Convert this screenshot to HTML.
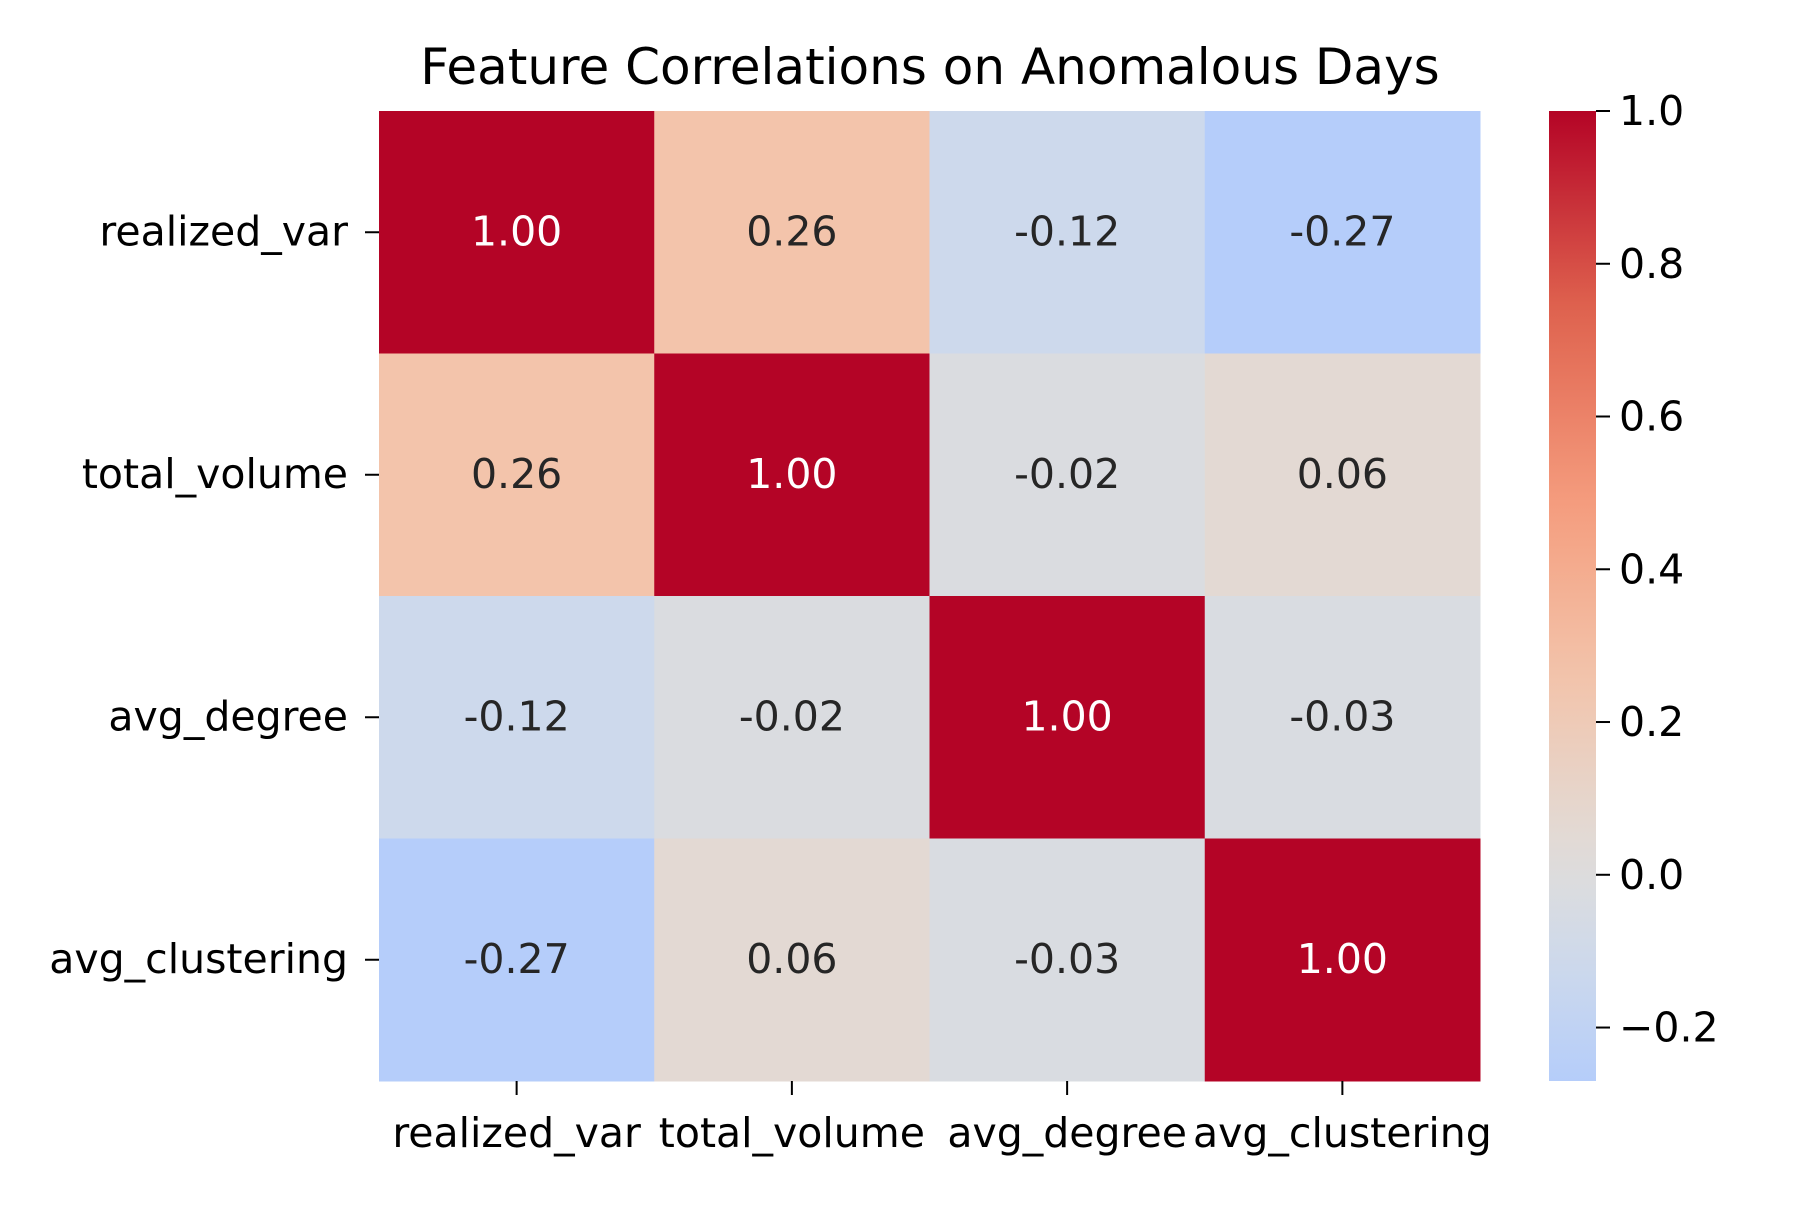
<!DOCTYPE html>
<html><head><meta charset="utf-8"><style>
body{margin:0;background:#fff;}
svg text{font-family:"DejaVu Sans","Liberation Sans",sans-serif;}
</style></head><body>
<svg id="chart" width="1800" height="1200">
<text x="930" y="84" font-size="50" text-anchor="middle" fill="#000">Feature Correlations on Anomalous Days</text>
<g id="cells"></g><g id="ylab"></g><g id="xlab"></g>
<defs><linearGradient id="cbg" x1="0" y1="1" x2="0" y2="0"></linearGradient></defs>
<rect x="1549" y="111" width="47" height="970" fill="url(#cbg)"/>
<g id="cbticks"></g>
</svg>
<script>
const labels=["realized_var","total_volume","avg_degree","avg_clustering"];
const row0=[1.00,0.26,-0.12,-0.27];
const row1=[0.26,1.00,-0.02,0.06];
const row2=[-0.12,-0.02,1.00,-0.03];
const row3=[-0.27,0.06,-0.03,1.00];
const matrix=[row0,row1,row2,row3];
const cbTicks=[-0.2,0.0,0.2,0.4,0.6,0.8,1.0];
const vmin=-0.27,vmax=1.0;
const L=379,R=1480,T=111,B=1081;
const cw=(R-L)/4,ch=(B-T)/4;
const FS=41;
const stops=[[0,59,76,192],[0.125,98,130,234],[0.25,141,176,254],[0.365,181,205,250],[0.44,205,217,236],[0.5,221,221,221],[0.53,227,217,211],[0.63,243,196,171],[0.75,244,154,123],[0.875,222,96,77],[1,180,4,38]];
function cmap(t){t=Math.max(0,Math.min(1,t));for(let i=1;i<stops.length;i++){if(t<=stops[i][0]){const a=stops[i-1],b=stops[i],f=(t-a[0])/(b[0]-a[0]);return `rgb(${[1,2,3].map(k=>Math.round(a[k]+(b[k]-a[k])*f)).join(',')})`;}}return 'rgb(180,4,38)';}
function color(v){return cmap(0.5+0.5*v);}
const NS="http://www.w3.org/2000/svg";
function mk(tag,attrs,parent){const e=document.createElementNS(NS,tag);for(const k in attrs)e.setAttribute(k,attrs[k]);parent.appendChild(e);return e;}
const cells=document.getElementById('cells');
matrix.forEach((row,i)=>row.forEach((v,j)=>{
 const r=mk('rect',{x:L+j*cw,y:T+i*ch,width:cw+0.5,height:ch+0.5,fill:color(v)},cells);
 
 
 const t=mk('text',{x:L+(j+0.5)*cw,y:T+(i+0.5)*ch+13,'font-size':FS,'text-anchor':'middle',fill:v>0.6?'#fff':'#262626'},cells);
 t.textContent=v.toFixed(2);
 
 
}));
const yl=document.getElementById('ylab'),xl=document.getElementById('xlab');
labels.forEach((s,i)=>{
 const y=T+(i+0.5)*ch;
 mk('line',{x1:365,x2:379,y1:y,y2:y,stroke:'#000','stroke-width':2},yl);
 const t=mk('text',{x:348,y:y+13,'font-size':FS,'text-anchor':'end'},yl);t.textContent=s;
 
 
 const x=L+(i+0.5)*cw;
 mk('line',{x1:x,x2:x,y1:1081,y2:1095,stroke:'#000','stroke-width':2},xl);
 const u=mk('text',{x:x,y:1147,'font-size':FS,'text-anchor':'middle'},xl);u.textContent=s;
 
 
});
const g=document.getElementById('cbg');
for(let k=0;k<=20;k++){const f=k/20,v=vmin+(vmax-vmin)*f;mk('stop',{offset:f,'stop-color':color(v)},g);}
const cb=document.getElementById('cbticks');
cbTicks.forEach(v=>{
 const y=B-(v-vmin)/(vmax-vmin)*(B-T);
 mk('line',{x1:1596,x2:1610,y1:y,y2:y,stroke:'#000','stroke-width':2},cb);
 const t=mk('text',{x:1619,y:y+14,'font-size':FS},cb);t.textContent=v<0?'\u2212'+Math.abs(v).toFixed(1):v.toFixed(1);
 
 
});
</script>
</body></html>
